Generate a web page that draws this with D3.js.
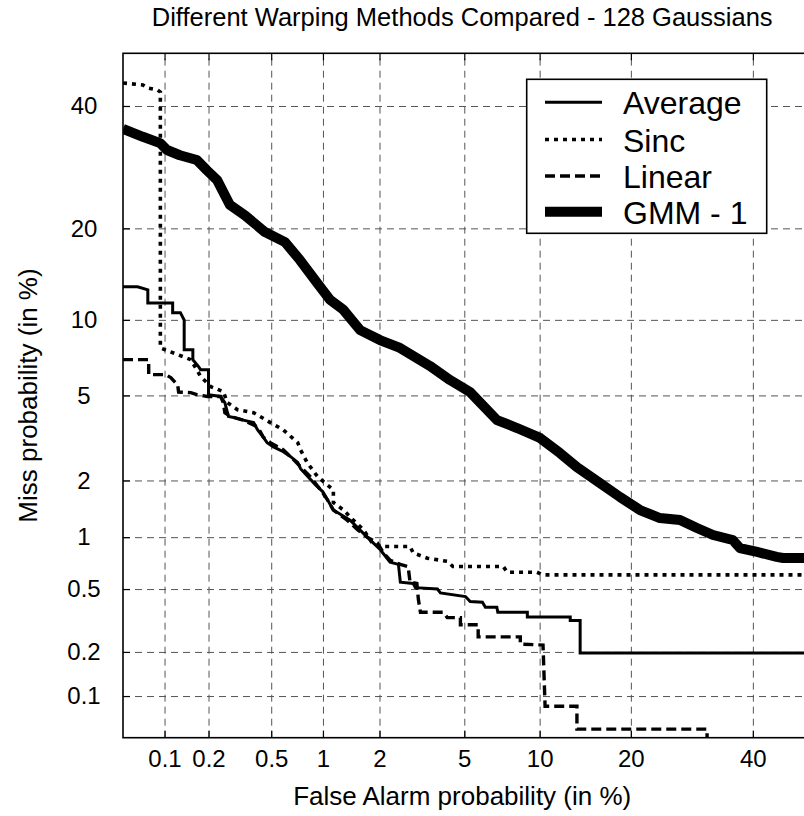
<!DOCTYPE html>
<html>
<head>
<meta charset="utf-8">
<script src="https://cdn.jsdelivr.net/npm/d3@7"></script>
<style>
  html, body { margin: 0; padding: 0; background: #fff; }
  svg { display: block; }
  text { font-family: "Liberation Sans", Arial, Helvetica, sans-serif; fill: #000; }
</style>
</head>
<body>
<svg id="chart" width="804" height="816"></svg>
<script>
// ---------------- data (percent values) ----------------
const titleText = "Different Warping Methods Compared - 128 Gaussians";
const xLabelText = "False Alarm probability (in %)";
const yLabelText = "Miss probability (in %)";
const axisLimits = [0.05, 50];

const xTickValues = [0.1, 0.2, 0.5, 1, 2, 5, 10, 20, 40];
const xTickLabels = ["0.1", "0.2", "0.5", "1", "2", "5", "10", "20", "40"];
const yTickValues = [0.1, 0.2, 0.5, 1, 2, 5, 10, 20, 40];
const yTickLabels = ["0.1", "0.2", "0.5", "1", "2", "5", "10", "20", "40"];

const seriesNames = ["Average", "Sinc", "Linear", "GMM - 1"];

// [false alarm %, miss %]
const average = [
  [0.05,13.08],[0.064,13.08],[0.076,12.78],[0.076,11.49],[0.114,11.49],[0.114,10.62],
  [0.129,10.62],[0.137,9.98],[0.137,7.70],[0.157,7.70],[0.157,7.04],[0.172,6.58],
  [0.177,6.41],[0.200,6.41],[0.200,5.04],[0.240,4.95],[0.256,4.65],[0.270,4.04],
  [0.292,4.0],[0.336,3.89],[0.390,3.79],[0.413,3.51],[0.447,3.25],[0.472,3.06],
  [0.516,2.92],[0.591,2.77],[0.650,2.63],[0.718,2.46],[0.746,2.29],[0.909,1.90],
  [1.0,1.75],[1.142,1.405],[1.406,1.24],[1.73,1.0],[2.02,0.85],[2.26,0.72],
  [2.486,0.70],[2.54,0.55],[2.93,0.54],[3.0,0.51],[3.80,0.50],[3.92,0.474],
  [5.06,0.45],[5.30,0.42],[5.97,0.415],[6.14,0.387],[6.84,0.387],[6.90,0.36],
  [9.0,0.36],[9.0,0.336],[12.84,0.336],[12.84,0.32],[13.87,0.32],[13.87,0.197],
  [50,0.197]
];

const sinc = [
  [0.05,44.33],[0.070,43.94],[0.0758,43.37],[0.0893,42.99],[0.0934,42.61],
  [0.0934,8.4],[0.0934,7.83],[0.152,7.04],[0.177,6.02],[0.207,5.45],[0.250,5.19],
  [0.266,4.65],[0.309,4.33],[0.390,4.20],[0.494,3.79],[0.591,3.51],[0.718,3.06],
  [0.746,2.83],[0.813,2.46],[0.933,2.09],[1.142,1.79],[1.142,1.54],[1.296,1.405],
  [1.462,1.24],[1.654,1.10],[1.835,0.93],[2.02,0.886],[2.83,0.886],[2.93,0.815],
  [3.42,0.76],[4.21,0.729],[4.46,0.68],[7.26,0.68],[7.53,0.63],[9.77,0.63],
  [10.29,0.608],[50,0.608]
];

const linear = [
  [0.05,7.04],[0.0771,7.04],[0.0771,6.12],[0.1014,6.12],[0.1106,5.95],[0.1235,5.54],
  [0.1254,5.17],[0.152,5.14],[0.167,5.04],[0.197,4.95],[0.240,4.95],[0.250,4.65],
  [0.256,4.20],[0.279,4.04],[0.336,3.89],[0.413,3.62],[0.447,3.25],[0.494,3.06],
  [0.591,2.83],[0.650,2.63],[0.746,2.34],[0.848,2.09],[0.970,1.79],[1.055,1.60],
  [1.142,1.405],[1.357,1.24],[1.54,1.10],[1.73,1.0],[1.95,0.93],[2.095,0.815],
  [2.26,0.74],[2.54,0.70],[2.77,0.68],[2.83,0.55],[3.05,0.54],[3.10,0.433],
  [3.17,0.36],[4.05,0.36],[4.21,0.333],[4.81,0.333],[4.81,0.30],[5.73,0.30],
  [5.73,0.251],[8.46,0.251],[8.46,0.225],[10.29,0.222],[10.47,0.0847],[13.53,0.0847],
  [13.53,0.0578],[31.77,0.0578],[31.77,0.05]
];

const gmm1 = [
  [0.05,35.8],[0.070,34.4],[0.093,33.3],[0.104,32.1],[0.128,31.2],[0.167,30.4],
  [0.195,28.7],[0.228,27.1],[0.276,23.3],[0.344,21.8],[0.458,19.5],[0.605,18.2],
  [0.741,16.0],[0.926,13.5],[1.094,11.8],[1.29,10.9],[1.59,9.16],[2.01,8.4],
  [2.53,7.83],[3.51,6.64],[4.33,5.81],[5.29,5.17],[6.85,3.89],[8.22,3.58],
  [10.03,3.22],[11.83,2.73],[13.53,2.33],[16.1,1.94],[18.56,1.645],[21.25,1.405],
  [24.15,1.273],[27.27,1.242],[30.05,1.124],[32.8,1.028],[36.3,0.964],[37.6,0.869],
  [40.8,0.825],[44.5,0.773],[45.7,0.762],[50,0.762]
];

const seriesData = [average, sinc, linear, gmm1];

// ---------------- helpers ----------------
function probit(p) {
  const a=[-3.969683028665376e+01,2.209460984245205e+02,-2.759285104469687e+02,1.383577518672690e+02,-3.066479806614716e+01,2.506628277459239e+00];
  const b=[-5.447609879822406e+01,1.615858368580409e+02,-1.556989798598866e+02,6.680131188771972e+01,-1.328068155288572e+01];
  const c=[-7.784894002430293e-03,-3.223964580411365e-01,-2.400758277161838e+00,-2.549732539343734e+00,4.374664141464968e+00,2.938163982698783e+00];
  const d=[7.784695709041462e-03,3.224671290700398e-01,2.445134137142996e+00,3.754408661907416e+00];
  const pl = 0.02425, ph = 1 - pl;
  let q, r;
  if (p < pl) {
    q = Math.sqrt(-2 * Math.log(p));
    return (((((c[0]*q+c[1])*q+c[2])*q+c[3])*q+c[4])*q+c[5]) / ((((d[0]*q+d[1])*q+d[2])*q+d[3])*q+1);
  }
  if (p <= ph) {
    q = p - 0.5; r = q*q;
    return (((((a[0]*r+a[1])*r+a[2])*r+a[3])*r+a[4])*r+a[5])*q / (((((b[0]*r+b[1])*r+b[2])*r+b[3])*r+b[4])*r+1);
  }
  q = Math.sqrt(-2 * Math.log(1 - p));
  return -(((((c[0]*q+c[1])*q+c[2])*q+c[3])*q+c[4])*q+c[5]) / ((((d[0]*q+d[1])*q+d[2])*q+d[3])*q+1);
}
const pr = v => probit(v / 100);

// ---------------- layout ----------------
const svg = d3.select("#chart");
const plotLeft = 123, plotTop = 53.3, plotW = 682.4, plotH = 684.4;

const x = d3.scaleLinear().domain([pr(axisLimits[0]), pr(axisLimits[1])]).range([plotLeft, plotLeft + plotW]);
const y = d3.scaleLinear().domain([pr(axisLimits[0]), pr(axisLimits[1])]).range([plotTop + plotH, plotTop]);

svg.append("rect").attr("width", 804).attr("height", 816).attr("fill", "#fff");

// grid
const gridX = svg.append("g").attr("transform", `translate(0,${plotTop + plotH})`)
  .call(d3.axisBottom(x).tickValues(xTickValues.map(pr)).tickSize(-plotH).tickFormat(""));
const gridY = svg.append("g").attr("transform", `translate(${plotLeft},0)`)
  .call(d3.axisLeft(y).tickValues(yTickValues.map(pr)).tickSize(-plotW).tickFormat(""));
[gridX, gridY].forEach(g => {
  g.select(".domain").remove();
  g.selectAll(".tick line").attr("stroke", "#555").attr("stroke-width", 1).attr("stroke-dasharray", "7,5");
});

// clip
svg.append("clipPath").attr("id", "plotclip")
  .append("rect").attr("x", plotLeft).attr("y", plotTop).attr("width", plotW).attr("height", plotH);

const line = d3.line().x(d => x(pr(d[0]))).y(d => y(pr(d[1])));

const styles = [
  { width: 3, dash: null },
  { width: 3.6, dash: "4,5" },
  { width: 3.4, dash: "10,5" },
  { width: 10, dash: null }
];

const lines = svg.append("g").attr("clip-path", "url(#plotclip)");
seriesData.forEach((s, i) => {
  lines.append("path").datum(s)
    .attr("d", line)
    .attr("fill", "none")
    .attr("stroke", "#000")
    .attr("stroke-width", styles[i].width)
    .attr("stroke-linejoin", i === 3 ? "round" : "miter")
    .attr("stroke-dasharray", styles[i].dash);
});

// frame
svg.append("rect").attr("x", plotLeft).attr("y", plotTop).attr("width", plotW).attr("height", plotH)
  .attr("fill", "none").attr("stroke", "#000").attr("stroke-width", 1.6);

// axes with inner ticks and labels
const xAxis = svg.append("g").attr("transform", `translate(0,${plotTop + plotH})`)
  .call(d3.axisBottom(x).tickValues(xTickValues.map(pr)).tickSize(-7).tickPadding(12)
    .tickFormat((d, i) => xTickLabels[i]));
const yAxis = svg.append("g").attr("transform", `translate(${plotLeft},0)`)
  .call(d3.axisLeft(y).tickValues(yTickValues.map(pr)).tickSize(-7).tickPadding(39)
    .tickFormat((d, i) => yTickLabels[i]));
const xTop = svg.append("g").attr("transform", `translate(0,${plotTop})`)
  .call(d3.axisTop(x).tickValues(xTickValues.map(pr)).tickSize(-7).tickFormat(""));
[xAxis, yAxis, xTop].forEach(g => {
  g.select(".domain").remove();
  g.selectAll(".tick line").attr("stroke", "#000").attr("stroke-width", 1.2);
  g.selectAll("text").style("font-size", "24px").attr("fill", "#000")
    .style("font-family", '"Liberation Sans", Arial, sans-serif');
});
yAxis.selectAll("text").attr("text-anchor", "middle");

// title and axis labels
svg.append("text").attr("x", plotLeft + plotW / 2 - 2).attr("y", 26)
  .attr("text-anchor", "middle").style("font-size", "25.5px").text(titleText);
svg.append("text").attr("x", plotLeft + plotW / 2 - 2).attr("y", 805)
  .attr("text-anchor", "middle").style("font-size", "26px").text(xLabelText);
svg.append("text").attr("transform", `translate(37,${plotTop + plotH / 2}) rotate(-90)`)
  .attr("text-anchor", "middle").style("font-size", "26px").text(yLabelText);

// legend
const lgX = 526.7, lgY = 79.3, lgW = 240, lgH = 154;
const legend = svg.append("g");
legend.append("rect").attr("x", lgX).attr("y", lgY).attr("width", lgW).attr("height", lgH)
  .attr("fill", "#fff").attr("stroke", "#000").attr("stroke-width", 1.6);
const rowY = [102.3, 139.5, 176, 211.7];
seriesNames.forEach((name, i) => {
  legend.append("line").attr("x1", 545).attr("x2", 602).attr("y1", rowY[i]).attr("y2", rowY[i])
    .attr("stroke", "#000").attr("stroke-width", styles[i].width)
    .attr("stroke-dasharray", styles[i].dash);
  legend.append("text").attr("x", 623).attr("y", rowY[i] + 12)
    .style("font-size", "32px").text(name);
});
</script>
</body>
</html>
